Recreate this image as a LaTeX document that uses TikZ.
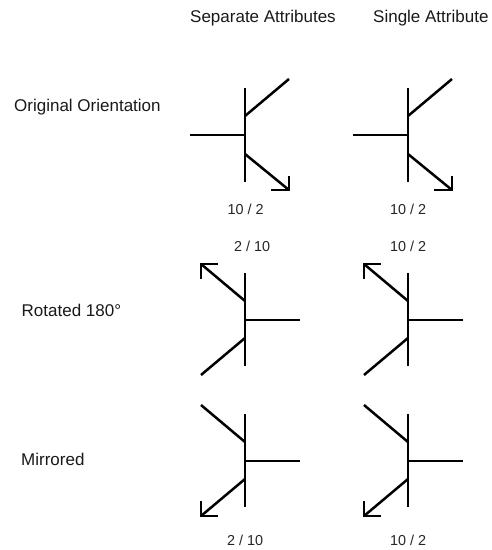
\documentclass[tikz,border=0pt]{standalone}
\usepackage{fontspec}
\setmainfont{Liberation Sans}
\tikzset{
  wire/.style={draw=black,line width=2.5pt,line cap=butt,line join=miter},
  lbl/.style={font=\fontsize{17}{20}\selectfont,text=black!90,inner sep=0pt,anchor=base west},
  val/.style={font=\fontsize{14.4}{17}\selectfont,text=black!85,inner sep=0pt,anchor=base west},
}
\newcommand{\upperT}[1]{%
  \begin{scope}[shift={(#1,0)}]
    \draw[wire] (245,88) -- (245,182);
    \draw[wire] (190,135) -- (245,135);
    \draw[wire] (245,116) -- (289,79);
    \draw[wire] (245,154) -- (289,190);
    \draw[wire] (289,176) -- (289,190) -- (271,190);
  \end{scope}}
\newcommand{\rotT}[1]{%
  \begin{scope}[shift={(#1,0)}]
    \draw[wire] (245,273) -- (245,366);
    \draw[wire] (245,320) -- (300,320);
    \draw[wire] (245,301) -- (201,264);
    \draw[wire] (245,338) -- (201,375);
    \draw[wire] (201,279) -- (201,264) -- (218,264);
  \end{scope}}
\newcommand{\mirT}[1]{%
  \begin{scope}[shift={(#1,0)}]
    \draw[wire] (245,414) -- (245,507);
    \draw[wire] (245,461) -- (300,461);
    \draw[wire] (245,442) -- (201,405);
    \draw[wire] (245,479) -- (201,516);
    \draw[wire] (201,501) -- (201,516) -- (218,516);
  \end{scope}}
\begin{document}
\begin{tikzpicture}[x=1pt,y=-1pt]
\useasboundingbox (0,0) rectangle (491,550);
\node[lbl] (h1) at (190,22) {Separate Attributes};
\node[lbl] (h2) at (373,22) {Single Attribute};
\node[lbl] (r1) at (14,111.5) {Original Orientation};
\node[lbl] (r2) at (21.5,316.5) {Rotated 180°};
\node[lbl] (r3) at (21,465) {Mirrored};
\upperT{0}\upperT{163}
\rotT{0}\rotT{163}
\mirT{0}\mirT{163}
\node[val] (a1) at (227.5,214) {10 / 2};
\node[val] (a2) at (390,214) {10 / 2};
\node[val] (b1) at (234,251) {2 / 10};
\node[val] (b2) at (390,251) {10 / 2};
\node[val] (c1) at (227,545) {2 / 10};
\node[val] (c2) at (390,545) {10 / 2};
\end{tikzpicture}
\end{document}
